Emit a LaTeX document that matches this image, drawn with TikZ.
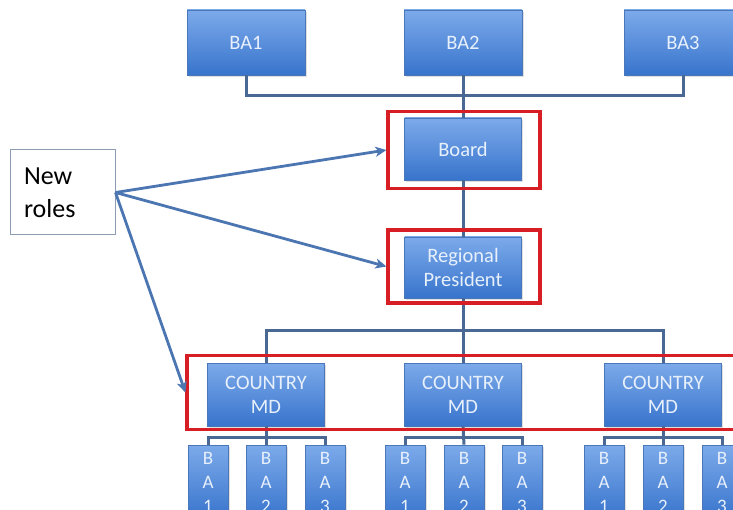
\documentclass[tikz,border=0pt]{standalone}
\usepackage{fontspec}
\setmainfont{Carlito}
\usetikzlibrary{arrows.meta,shadows}
\definecolor{boxtop}{RGB}{124,170,234}
\definecolor{boxbot}{RGB}{56,116,204}
\definecolor{boxline}{RGB}{74,118,186}
\definecolor{connc}{RGB}{74,104,148}
\definecolor{framec}{RGB}{214,30,36}
\definecolor{arrc}{RGB}{76,118,178}
\definecolor{txtc}{RGB}{232,240,252}
\definecolor{nrline}{RGB}{140,156,178}
\tikzset{
  bluebox/.style={draw=boxline, line width=0.8pt, top color=boxtop, bottom color=boxbot,
    text=txtc, align=center, inner sep=0pt, minimum width=118pt, minimum height=63pt,
    font=\fontsize{20.5}{24}\selectfont,
    drop shadow={shadow xshift=1.5pt, shadow yshift=-2pt, opacity=0.25}},
  smallbox/.style={bluebox, minimum width=40pt, minimum height=74pt,
    font=\fontsize{19}{24}\selectfont},
  redframe/.style={draw=framec, line width=3.2pt, inner sep=0pt},
  connector/.style={draw=connc, line width=3pt},
  newarrow/.style={draw=arrc, line width=2.8pt, -{Stealth[length=11pt,width=10pt,inset=3pt]}},
  notebox/.style={draw=nrline, line width=1pt, fill=white, text=black, align=left,
    text width=77pt, inner xsep=14pt, minimum width=105pt, minimum height=85pt,
    font=\fontsize{26}{33}\selectfont}
}
\begin{document}
\begin{tikzpicture}[x=1pt,y=-1pt]
\useasboundingbox (0,0) rectangle (733,510);
\clip (0,0) rectangle (733,510);
\fill[white] (0,0) rectangle (733,510);

% junction points
\coordinate (topj) at (463,96);
\coordinate (midj) at (463,331);

% boxes
\node[bluebox, minimum height=65pt] (ba1) at (246,42.5) {BA1};
\node[bluebox, minimum height=65pt] (ba2) at (463,42.5) {BA2};
\node[bluebox, minimum height=65pt] (ba3) at (683,42.5) {BA3};

\node[bluebox, minimum width=117pt, minimum height=62pt] (board) at (463,149) {Board};
\node[bluebox, minimum width=117pt, minimum height=61pt] (rp) at (463,267.5) {Regional\\President};

\node[bluebox, minimum width=117pt] (md1) at (266,394.5) {COUNTRY\\MD};
\node[bluebox, minimum width=117pt] (md2) at (463,394.5) {COUNTRY\\MD};
\node[bluebox, minimum width=117pt] (md3) at (663,394.5) {COUNTRY\\MD};

\node[smallbox] (a11) at (208,482) {B\\A\\1};
\node[smallbox] (a12) at (266,482) {B\\A\\2};
\node[smallbox] (a13) at (325,482) {B\\A\\3};
\node[smallbox] (a21) at (405,482) {B\\A\\1};
\node[smallbox] (a22) at (464,482) {B\\A\\2};
\node[smallbox] (a23) at (522,482) {B\\A\\3};
\node[smallbox] (a31) at (604,482) {B\\A\\1};
\node[smallbox] (a32) at (663,482) {B\\A\\2};
\node[smallbox] (a33) at (722,482) {B\\A\\3};

\coordinate (j1) at (266,437);
\coordinate (j2) at (463,437);
\coordinate (j3) at (663,437);

% connectors
\draw[connector] (ba1.south) |- (topj) -| (ba3.south);
\draw[connector] (ba2.south) -- (board.north);
\draw[connector] (board.south) -- (rp.north);
\draw[connector] (md1.north) |- (midj) -| (md3.north);
\draw[connector] (rp.south) -- (md2.north);
\draw[connector] (a11.north) |- (j1) -| (a13.north);
\draw[connector] (md1.south) -- (a12.north);
\draw[connector] (a21.north) |- (j2) -| (a23.north);
\draw[connector] (md2.south) -- (a22.north);
\draw[connector] (a31.north) |- (j3) -| (a33.north);
\draw[connector] (md3.south) -- (a32.north);

% red frames
\node[redframe, minimum width=152pt, minimum height=77pt] (rb1) at (464,150) {};
\node[redframe, minimum width=152pt, minimum height=73pt] (rb2) at (464,266.5) {};
\node[redframe, minimum width=560pt, minimum height=74pt] (rb3) at (467,392.5) {};

% new roles
\node[notebox] (nr) at (62.5,192.5) {New\\roles};
\draw[newarrow] (nr.east) -- (rb1.west);
\draw[newarrow] (nr.east) -- (rb2.west);
\draw[newarrow] (nr.east) -- (rb3.west);
\end{tikzpicture}
\end{document}
